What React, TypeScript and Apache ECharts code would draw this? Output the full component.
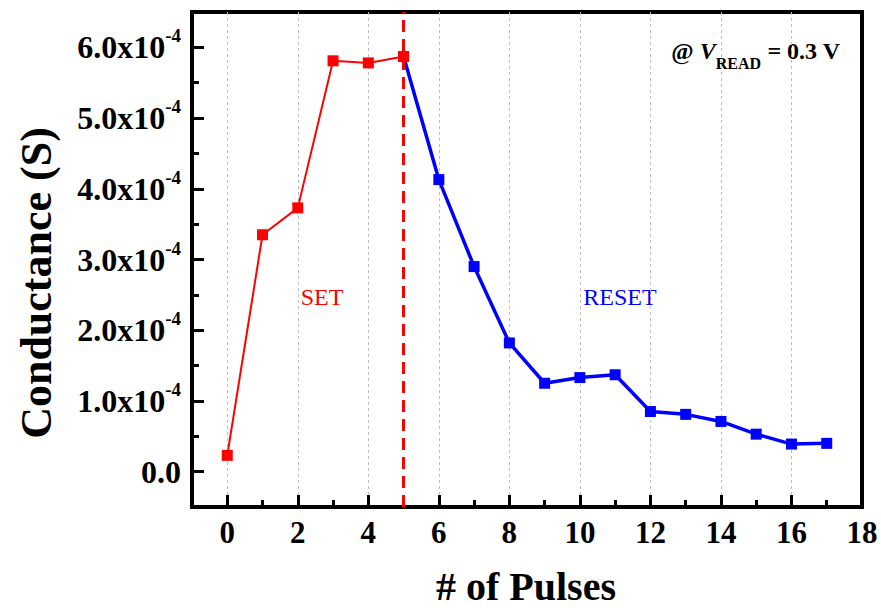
import React, { useEffect, useRef } from 'react';
import * as echarts from 'echarts';

// Conductance values in units of 1e-4 S
const setPulses = [0, 1, 2, 3, 4, 5];
const setConductance = [0.23, 3.35, 3.73, 5.81, 5.78, 5.87];
const resetPulses = [5, 6, 7, 8, 9, 10, 11, 12, 13, 14, 15, 16, 17];
const resetConductance = [5.87, 4.13, 2.9, 1.82, 1.25, 1.33, 1.37, 0.85, 0.81, 0.71, 0.53, 0.39, 0.4];
const boundaryPulse = 5;

const xTickLabels = [0, 2, 4, 6, 8, 10, 12, 14, 16, 18];
const xMajorTicks = [0, 2, 4, 6, 8, 10, 12, 14, 16];
const xMinorTicks = [1, 3, 5, 7, 9, 11, 13, 15, 17];
const yTickLabels = [0, 1, 2, 3, 4, 5, 6];
const yMinorTicks = [0.5, 1.5, 2.5, 3.5, 4.5, 5.5];

const SERIF = "'Liberation Serif', 'Times New Roman', serif";

export default function App() {
  const ref = useRef<HTMLDivElement>(null);
  useEffect(() => {
    if (!ref.current) return;
    const chart = echarts.init(ref.current, undefined, { renderer: 'svg' });
    const tickStyle = { color: '#000', width: 3 };
    const option: any = {
      animation: false,
      backgroundColor: '#fff',
      grid: {
        left: 192,
        right: 19,
        top: 12,
        bottom: 104,
        show: true,
        borderColor: '#000',
        borderWidth: 4,
      },
      xAxis: [
        {
          type: 'value',
          position: 'bottom',
          min: -1,
          max: 18,
          interval: 1,
          axisLine: { show: true, onZero: false, lineStyle: { color: '#000', width: 4 } },
          axisTick: { show: true, inside: true, length: 12, lineStyle: tickStyle, customValues: xMajorTicks },
          axisLabel: {
            show: true,
            customValues: xTickLabels,
            margin: 10,
            color: '#000',
            fontFamily: SERIF,
            fontWeight: 'bold',
            fontSize: 31,
            formatter: (v: number) => String(v),
          },
          splitLine: { show: true, lineStyle: { color: '#bdbdbd', width: 1, type: [3, 3] } },
        },
        {
          type: 'value',
          position: 'bottom',
          min: -1,
          max: 18,
          interval: 1,
          axisLine: { show: false, onZero: false },
          axisTick: { show: true, inside: true, length: 7, lineStyle: tickStyle, customValues: xMinorTicks },
          axisLabel: { show: false },
          splitLine: { show: false },
        },
      ],
      yAxis: [
        {
          type: 'value',
          position: 'left',
          min: -0.5,
          max: 6.5,
          interval: 0.5,
          axisLine: { show: true, onZero: false, lineStyle: { color: '#000', width: 4 } },
          axisTick: { show: true, inside: true, length: 12, lineStyle: tickStyle, customValues: yTickLabels },
          axisLabel: {
            show: true,
            customValues: yTickLabels,
            margin: 11,
            formatter: (v: number) => (v === 0 ? '{m|0.0}' : '{m|' + v.toFixed(1) + 'x10}{s|-4}'),
            rich: {
              m: { fontFamily: SERIF, fontWeight: 'bold', fontSize: 32, lineHeight: 42, color: '#000', verticalAlign: 'middle' },
              s: { fontFamily: SERIF, fontWeight: 'bold', fontSize: 19, lineHeight: 19, color: '#000', verticalAlign: 'top' },
            },
          },
          splitLine: { show: false },
        },
        {
          type: 'value',
          position: 'left',
          min: -0.5,
          max: 6.5,
          interval: 0.5,
          axisLine: { show: false, onZero: false },
          axisTick: { show: true, inside: true, length: 7, lineStyle: tickStyle, customValues: yMinorTicks },
          axisLabel: { show: false },
          splitLine: { show: false },
        },
      ],
      series: [
        {
          name: 'RESET',
          type: 'line',
          xAxisIndex: 0,
          yAxisIndex: 0,
          z: 2,
          data: resetPulses.map((p, i) => [p, resetConductance[i]]),
          symbol: 'rect',
          symbolSize: 11,
          itemStyle: { color: '#0000ff' },
          lineStyle: { color: '#0000ff', width: 3.5 },
        },
        {
          name: 'SET',
          type: 'line',
          xAxisIndex: 0,
          yAxisIndex: 0,
          z: 3,
          data: setPulses.map((p, i) => [p, setConductance[i]]),
          symbol: 'rect',
          symbolSize: 11,
          itemStyle: { color: '#ff0000' },
          lineStyle: { color: '#ff0000', width: 2 },
          markLine: {
            silent: true,
            symbol: ['none', 'none'],
            label: { show: false },
            lineStyle: { color: '#ff0000', width: 3, type: [12, 7] },
            data: [{ xAxis: boundaryPulse }],
          },
        },
      ],
      graphic: [
        {
          type: 'text',
          x: 526,
          y: 586,
          style: {
            text: '# of Pulses',
            font: `bold 40px ${SERIF}`,
            fill: '#000',
            align: 'center',
            verticalAlign: 'middle',
          },
        },
        {
          type: 'text',
          x: 36,
          y: 283,
          rotation: Math.PI / 2,
          style: {
            text: 'Conductance (S)',
            font: `bold 44px ${SERIF}`,
            fill: '#000',
            align: 'center',
            verticalAlign: 'middle',
          },
        },
        {
          type: 'text',
          x: 322,
          y: 297,
          style: {
            text: 'SET',
            font: `24px ${SERIF}`,
            fill: '#ff0000',
            align: 'center',
            verticalAlign: 'middle',
          },
        },
        {
          type: 'text',
          x: 620,
          y: 297,
          style: {
            text: 'RESET',
            font: `24px ${SERIF}`,
            fill: '#0000ff',
            align: 'center',
            verticalAlign: 'middle',
          },
        },
        {
          type: 'text',
          x: 840,
          y: 55,
          style: {
            text: '{a|@ }{v|V}{s|READ}{a| = 0.3 V}',
            fill: '#000',
            align: 'right',
            verticalAlign: 'middle',
            rich: {
              a: { fontFamily: SERIF, fontWeight: 'bold', fontSize: 24, lineHeight: 32, verticalAlign: 'top', fill: '#000' },
              v: { fontFamily: SERIF, fontWeight: 'bold', fontStyle: 'italic', fontSize: 24, lineHeight: 32, verticalAlign: 'top', fill: '#000' },
              s: { fontFamily: SERIF, fontWeight: 'bold', fontSize: 16, lineHeight: 15, verticalAlign: 'bottom', fill: '#000' },
            },
          },
        },
      ],
    };
    chart.setOption(option);
    return () => chart.dispose();
  }, []);
  return (
    <div
      ref={ref}
      style={{ position: 'fixed', left: 0, top: 0, width: 881, height: 611, background: '#fff' }}
    />
  );
}
